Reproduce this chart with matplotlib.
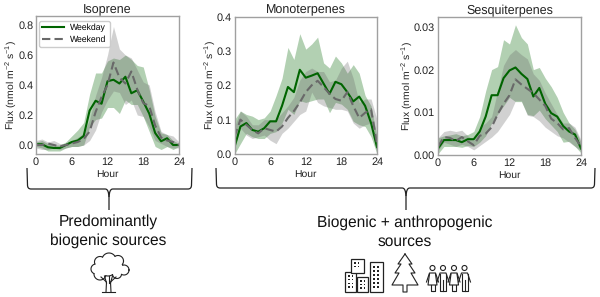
import numpy as np
import matplotlib
matplotlib.use("Agg")
import matplotlib.pyplot as plt
from matplotlib.patches import Circle, Rectangle
from matplotlib.path import Path
from matplotlib.patches import PathPatch

plt.rcParams['font.family'] = ['Liberation Sans', 'DejaVu Sans']
plt.rcParams['mathtext.default'] = 'regular'
plt.rcParams['text.hinting'] = 'no_hinting'

hours = np.arange(25)

iso_wd = [.005,.005,-.015,-.02,-.02,0,.02,.03,.06,.23,.295,.275,.425,.435,.41,.455,.345,.365,.29,.21,.08,.025,.045,0,0]
iso_wd_hi = [.02,.03,.01,0,0,.02,.06,.1,.15,.34,.48,.48,.56,.58,.57,.6,.57,.53,.52,.37,.19,.08,.07,.03,.01]
iso_wd_lo = [-.01,-.02,-.04,-.04,-.04,-.02,-.01,-.01,0,.12,.17,.18,.25,.25,.21,.3,.27,.27,.19,.09,-.01,-.03,-.01,-.03,-.01]
iso_we = [0,0,.01,0,-.01,0,.01,.02,.04,.09,.22,.32,.40,.55,.45,.41,.49,.37,.28,.26,.13,.05,.03,.02,0]
iso_we_hi = [.03,.04,.02,.03,.01,.01,.03,.05,.08,.17,.33,.45,.6,.79,.64,.6,.58,.5,.42,.4,.22,.09,.07,.06,.02]
iso_we_lo = [-.02,-.03,-.03,-.02,-.03,-.02,-.01,-.01,0,.03,.1,.22,.3,.36,.35,.27,.3,.2,.19,.12,.03,.01,-.01,-.02,-.02]

mono_wd = [.02,.08,.09,.07,.065,.075,.095,.095,.14,.195,.18,.245,.222,.228,.235,.205,.175,.21,.203,.18,.153,.167,.14,.09,.02]
mono_wd_hi = [.10,.125,.115,.11,.10,.105,.125,.17,.22,.31,.275,.35,.305,.32,.34,.265,.25,.285,.265,.235,.26,.235,.17,.14,.05]
mono_wd_lo = [0,.03,.06,.05,.045,.045,.06,.065,.09,.13,.115,.155,.15,.155,.16,.16,.12,.15,.145,.13,.095,.085,.08,.05,0]
mono_we = [.05,.10,.085,.07,.06,.075,.07,.065,.08,.105,.125,.15,.18,.20,.213,.195,.175,.16,.155,.18,.14,.105,.12,.13,.03]
mono_we_hi = [.08,.125,.11,.085,.085,.10,.10,.10,.12,.14,.165,.215,.24,.25,.24,.24,.21,.215,.25,.27,.22,.15,.16,.16,.1]
mono_we_lo = [.02,.075,.055,.045,.05,.055,.04,.03,.06,.075,.095,.115,.125,.18,.15,.14,.135,.13,.13,.125,.09,.075,.085,.09,0]

sesq_wd = [.0015,.0035,.0035,.0035,.003,.0037,.0037,.0055,.009,.014,.014,.018,.0198,.0205,.019,.0178,.0137,.0157,.012,.0098,.009,.0068,.0055,.0048,.0015]
sesq_wd_hi = [.004,.0045,.0047,.005,.0045,.0048,.0055,.009,.015,.02,.0207,.027,.026,.0305,.0275,.026,.020,.0205,.018,.016,.0135,.01,.0075,.006,.003]
sesq_wd_lo = [.0003,.002,.002,.002,.0018,.0022,.002,.003,.0045,.0075,.0095,.0115,.0135,.0125,.0125,.0095,.0092,.0105,.0085,.007,.0055,.003,.0032,.002,.0005]
sesq_we = [.002,.0042,.004,.0033,.0042,.0032,.0023,.0045,.005,.0065,.0095,.012,.014,.0177,.0165,.0155,.0145,.013,.0115,.0085,.0075,.006,.0063,.004,.002]
sesq_we_hi = [.004,.0055,.0058,.0055,.0058,.0045,.0035,.0065,.0075,.009,.015,.021,.0235,.0247,.0235,.0225,.019,.0175,.0145,.012,.0095,.0075,.0075,.0065,.0035]
sesq_we_lo = [.001,.003,.0025,.002,.0025,.002,.0012,.0022,.0032,.0042,.0055,.0075,.0095,.0127,.0127,.0093,.009,.008,.0065,.0055,.0045,.004,.003,.002,.001]

W, H = 600, 297
fig = plt.figure(figsize=(6.0, 2.97), dpi=100)

def make_axes(left, right, top, bottom):
    return fig.add_axes([left/W, 1-bottom/H, (right-left)/W, (bottom-top)/H])

def panel(ax, title, wd, wd_lo, wd_hi, we, we_lo, we_hi, ylim, yticks, fmt):
    ax.fill_between(hours, wd_lo, wd_hi, color='darkgreen', alpha=0.3, lw=0)
    ax.fill_between(hours, we_lo, we_hi, color='dimgray', alpha=0.3, lw=0)
    ax.plot(hours, wd, color='darkgreen', lw=1.5, label='Weekday')
    ax.plot(hours, we, color='dimgray', lw=1.5, ls=(0, (4, 2)), label='Weekend')
    ax.set_xlim(0, 24)
    ax.set_ylim(*ylim)
    ax.set_xticks([0, 6, 12, 18, 24])
    ax.set_yticks(yticks)
    ax.set_yticklabels([fmt % v for v in yticks])
    ax.tick_params(labelsize=7.8, length=0, pad=2, colors='#222222')
    ax.set_xlabel('Hour', fontsize=7.5, labelpad=2, color='#222222')
    ax.set_ylabel('Flux (nmol m$^{-2}$ s$^{-1}$)', fontsize=7.5, labelpad=0, color='#222222')
    ax.set_title(title, fontsize=9, pad=2, color='#222222')
    for s in ax.spines.values():
        s.set_color('#a0a0a0')
        s.set_linewidth(1.0)

ax0 = make_axes(36, 179, 16, 154)
panel(ax0, 'Isoprene', iso_wd, iso_wd_lo, iso_wd_hi, iso_we, iso_we_lo, iso_we_hi,
      (-0.06, 0.86), [0.0, 0.2, 0.4, 0.6, 0.8], '%.1f')
ax0.legend(loc='upper left', fontsize=6.2, frameon=True, edgecolor='#cccccc', framealpha=1,
           borderpad=0.35, handlelength=2.6, handletextpad=0.7, labelspacing=0.4,
           bbox_to_anchor=(0.02, 0.965), borderaxespad=0, fancybox=True)

ax1 = make_axes(234.5, 377, 16.5, 154)
panel(ax1, 'Monoterpenes', mono_wd, mono_wd_lo, mono_wd_hi, mono_we, mono_we_lo, mono_we_hi,
      (0, 0.4), [0.0, 0.1, 0.2, 0.3, 0.4], '%.1f')

ax2 = make_axes(438, 581, 17.5, 155)
panel(ax2, 'Sesquiterpenes', sesq_wd, sesq_wd_lo, sesq_wd_hi, sesq_we, sesq_we_lo, sesq_we_hi,
      (0, 0.0322), [0.0, 0.01, 0.02, 0.03], '%.2f')

# overlay in pixel coordinates for braces, captions and icons
ov = fig.add_axes([0, 0, 1, 1], zorder=5)
ov.set_xlim(0, W)
ov.set_ylim(H, 0)
ov.axis('off')
ov.patch.set_alpha(0)

def brace(x0, x1, xm, top, low, tip):
    r = 4
    verts = [(x0, top), (x0+0.5, low-r), (x0+0.5, low), (x0+r, low),
             (xm-4, low), (xm-1, low), (xm-0.5, low+3), (xm, low+8), (xm, tip)]
    codes = [Path.MOVETO, Path.LINETO, Path.CURVE3, Path.CURVE3, Path.LINETO,
             Path.CURVE4, Path.CURVE4, Path.CURVE4, Path.LINETO]
    ov.add_patch(PathPatch(Path(verts, codes), fc='none', ec='#222222', lw=0.9))
    verts = [(x1, top), (x1-0.5, low-r), (x1-0.5, low), (x1-r, low),
             (xm+4, low), (xm+1, low), (xm+0.5, low+3), (xm, low+8)]
    codes = [Path.MOVETO, Path.LINETO, Path.CURVE3, Path.CURVE3, Path.LINETO,
             Path.CURVE4, Path.CURVE4, Path.CURVE4]
    ov.add_patch(PathPatch(Path(verts, codes), fc='none', ec='#222222', lw=0.9))

brace(27, 192, 109, 168, 189, 210)
brace(216, 595, 406, 168, 188, 210)

cap = dict(fontsize=11.2, ha='center', va='center', color='#111111')
ov.text(108, 222, 'Predominantly', **cap)
ov.text(108, 241, 'biogenic sources', **cap)
ov.text(405, 223, 'Biogenic + anthropogenic', **cap)
ov.text(405, 242, 'sources', **cap)

ic = dict(color='#222222', lw=0.8)

# tree, canopy outline only where a lobe is not inside another lobe
lobes = [(100, 262, 5.5), (109, 260, 7), (118, 261, 5.5), (124, 270, 5), (117, 274, 4.5),
         (108, 268, 8), (100, 274, 6), (96, 269, 5), (117, 267, 6)]
theta = np.linspace(0, 2*np.pi, 120)
for i, (x, y, r) in enumerate(lobes):
    cx = x + r*np.cos(theta)
    cy = y + r*np.sin(theta)
    for j, (a, b, c) in enumerate(lobes):
        if j != i:
            cy = np.where((cx-a)**2 + (cy-b)**2 < c**2, np.nan, cy)
    ov.plot(cx, cy, **ic)
for xs, ys in [([106, 106.5, 101], [292, 282, 277]), ([111, 110.5, 116], [292, 282, 277]),
               ([106.5, 104.5], [283, 276]), ([110.5, 112.5], [283, 276]), ([108.5, 108.5], [283, 276]),
               ([102, 115], [292, 292])]:
    ov.plot(xs, ys, **ic)

# buildings
for x, y, w, h in [(345, 272, 11, 20), (351, 259, 13, 14), (357, 277, 11, 15), (370, 262, 13, 30)]:
    ov.add_patch(Rectangle((x, y), w, h, fc='white', ec='#222222', lw=0.9, zorder=2))
for x0, y0, nx, ny, dx, dy in [(348, 275, 2, 4, 3.5, 3.8), (354, 262, 2, 2, 3.5, 3.5),
                               (360, 280, 2, 3, 3.5, 3.5), (373, 266, 2, 6, 4, 4)]:
    for i in range(nx):
        for j in range(ny):
            ov.add_patch(Rectangle((x0+i*dx, y0+j*dy), 1.6, 1.6, fc='#222222', ec='none', zorder=3))

# pine
px = [405, 398, 401, 395, 399, 392, 403, 403, 407, 407, 418, 411, 415, 409, 412, 405]
py = [254, 264, 264, 273, 273, 285, 285, 292, 292, 285, 285, 273, 273, 264, 264, 254]
ov.plot(px, py, **ic)

# people
for cx, skirt in [(432.5, True), (443, False), (454, True), (464.5, False)]:
    ov.add_patch(Circle((cx, 268), 2.5, fc='white', ec='#222222', lw=0.8))
    ov.plot([cx-6, cx-3, cx+3, cx+6], [282, 273, 273, 282], **ic)
    if skirt:
        ov.plot([cx-3, cx-4.5, cx+4.5, cx+3], [274, 285, 285, 274], **ic)
        ov.plot([cx-2, cx-2, cx], [285, 291, 291], **ic)
        ov.plot([cx+2, cx+2, cx], [285, 291, 291], **ic)
    else:
        ov.plot([cx-3, cx-3, cx+3, cx+3], [274, 291, 291, 274], **ic)
        ov.plot([cx, cx], [280, 291], **ic)

fig.savefig('out.png', dpi=100)
